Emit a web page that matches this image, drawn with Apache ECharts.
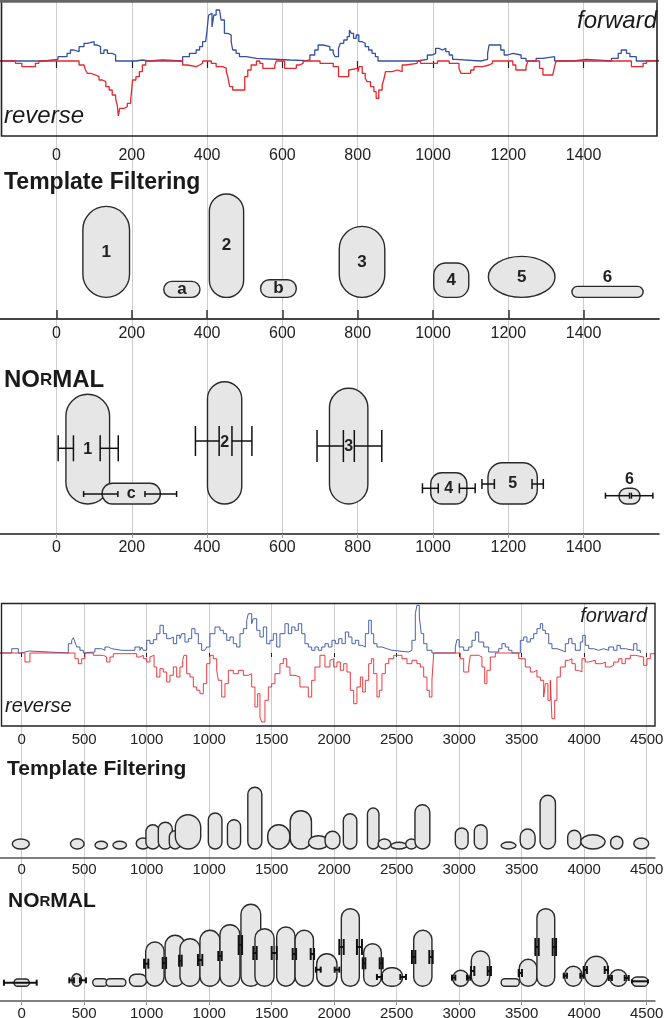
<!DOCTYPE html>
<html>
<head>
<meta charset="utf-8">
<script src="https://cdn.jsdelivr.net/npm/echarts@6/dist/echarts.min.js"></script>
<style>
  html, body { margin: 0; padding: 0; background: #fff; }
  #chart { width: 664px; height: 1018px; }
</style>
</head>
<body>
<div id="chart"></div>
<script>
// tick labels (the lower panel really repeats "1000")
const topTickLabels = ['0', '200', '400', '600', '800', '1000', '1200', '1400'];
const botTickLabels = ['0', '500', '1000', '1000', '1500', '2000', '2500', '3000', '3500', '4000', '4500'];

// read counts, [position, height]; forward up, reverse down
const topFwd = [[-200,0],[-34,1.7],[4,4.3],[28,7.7],[37,11],[46,9.3],[60,14.3],[73,17.7],[82,19.3],[100,16],[108,14.3],[117,7.7],[126,11],[135,7.7],[148,6],[157,0],[211,1],[228,0],[246,1],[282,0],[335,4.3],[353,7.7],[371,11],[380,14.3],[388,19.3],[396,17.7],[399,27.7],[404,46],[408,47.7],[413,34],[418,46],[424,51],[433,49],[437,41],[446,27.7],[455,26],[464,19.3],[468,11],[477,7.7],[486,4.3],[504,2.7],[531,1],[620,0.3],[664,1],[673,6],[686,11],[695,16],[708,14.3],[726,11],[735,7.7],[740,4.3],[749,12.7],[754,17.7],[763,21],[772,24.3],[778,31],[783,27.7],[789,22.7],[796,26],[803,19.3],[812,17.7],[820,14.3],[829,11],[838,7.7],[847,4.3],[854,0],[958,1.7],[985,6],[998,7.7],[1007,12.7],[1016,11],[1025,12.7],[1034,9.3],[1043,6],[1052,1.7],[1060,0],[1127,1.7],[1145,7.7],[1149,16],[1180,11],[1189,6],[1198,7.7],[1212,6],[1234,2.7],[1247,0],[1274,2.7],[1292,4.3],[1323,0],[1372,1.7],[1407,0],[1474,2.7],[1492,7.7],[1500,11],[1514,7.7],[1523,4.3],[1540,0],[1567,0.5],[1600,0.5]];
const topRev = [[-200,0],[-109,-2.3],[-92,-5.7],[-56,-2.3],[-47,0],[60,-4],[73,-5.7],[77,-9],[82,-12.3],[91,-14],[104,-15.7],[113,-19],[122,-20.7],[131,-25.7],[140,-29],[148,-34],[157,-37.3],[162,-45.7],[164,-55],[168,-47.3],[180,-45.7],[188,-42.3],[197,-39],[202,-19],[211,-15.7],[220,-10.7],[228,-4],[237,0],[335,-4],[348,-5.7],[371,-4],[380,-2.3],[388,0],[411,-2.3],[424,-5.7],[442,-7.3],[451,-10.7],[455,-15.7],[460,-25.7],[468,-29],[500,-15.7],[508,-9],[517,-4],[531,0],[540,-2.3],[548,-7.3],[580,-4],[584,0],[606,-7.3],[637,-4],[646,-2.3],[655,0],[700,-2.3],[735,-5.7],[749,-15.7],[776,-9],[780,-7.3],[801,-10.7],[804,-5.7],[812,-12.3],[820,-17.3],[825,-20.7],[834,-25.7],[843,-30.7],[849,-37.3],[856,-29],[865,-24],[869,-19],[874,-10.7],[892,-9],[905,-10.7],[918,-4],[927,-2.3],[958,0],[967,-2.3],[1012,0],[1043,-2.3],[1069,-7.3],[1074,-12.3],[1100,-9],[1109,-5.7],[1132,-4],[1149,-2.3],[1158,0],[1212,-4],[1220,-9],[1247,-5.7],[1252,0],[1283,-7.3],[1292,-14],[1318,-12.3],[1323,-5.7],[1327,0],[1527,-5.7],[1558,-2.3],[1567,0],[1600,0]];

const botFwd = [[-500,0],[-80,4.3],[-27,0],[-8,2],[61,0],[373,9.3],[400,12.7],[413,15.3],[426,11],[440,6],[466,2.7],[493,0],[506,1],[586,4.3],[640,2.7],[666,6],[693,4.3],[720,2.7],[800,1],[813,2.7],[906,6],[946,2.7],[960,6],[973,2.7],[1000,12.7],[1026,9.3],[1053,13.3],[1080,19.3],[1106,27.7],[1133,19.3],[1160,14.3],[1186,16],[1213,9.3],[1240,17.7],[1266,14.3],[1280,19.3],[1306,11],[1333,14.3],[1360,24.3],[1386,19.3],[1413,9.3],[1440,2.7],[1466,1],[1480,6],[1506,19.3],[1546,26],[1586,22.7],[1613,19.3],[1640,12.7],[1666,16],[1693,9.3],[1720,6],[1746,19.3],[1773,24.3],[1800,32.7],[1813,39.3],[1840,29.3],[1853,34.3],[1880,22.7],[1906,16],[1933,26],[1960,9.3],[1986,12.7],[2013,19.3],[2040,6],[2066,19.3],[2106,29.3],[2133,19.3],[2160,26],[2186,22.7],[2213,29.3],[2240,19.3],[2266,9.3],[2293,6],[2320,2.7],[2346,6],[2373,2.7],[2400,6],[2426,9.3],[2453,6],[2482,12.7],[2509,9.3],[2536,14.3],[2562,9.3],[2589,21],[2616,16],[2642,9.3],[2669,12.7],[2696,7.7],[2722,6],[2749,19.3],[2776,32.7],[2797,19.3],[2816,9.3],[2842,6],[2882,4.3],[2922,2.7],[2962,1],[3096,2.7],[3122,12.7],[3149,39.3],[3162,47.7],[3181,36],[3197,19.3],[3216,9.3],[3242,2.7],[3282,0],[3469,6],[3482,13.3],[3500,6],[3536,2.7],[3576,6],[3602,12.7],[3629,21],[3656,11],[3696,6],[3736,1],[3816,4.3],[3842,9.3],[3869,6],[3896,2.7],[3922,0],[3989,12.7],[4016,16],[4042,11],[4069,14.3],[4096,19.3],[4122,24.3],[4149,29.3],[4168,22.7],[4189,19.3],[4216,9.3],[4242,4.3],[4282,2.7],[4322,1],[4349,9.3],[4376,14.3],[4402,9.3],[4429,2.7],[4469,11],[4488,17.7],[4509,7.7],[4536,4.3],[4576,2.7],[4616,4.3],[4656,2.7],[4696,6],[4736,2.7],[4762,7.7],[4789,4.3],[4829,2.7],[4896,9.3],[4922,2.7],[4949,0]];
const botRev = [[-500,0],[26,-9],[66,0],[426,-5.7],[453,-10.7],[480,-5.7],[506,0],[573,-2.3],[653,-4],[680,-9],[706,-4],[733,-0.7],[920,-4],[946,-2.3],[973,-5.7],[1000,-9],[1026,-4],[1040,-2.3],[1059,-14],[1080,-24],[1106,-15.7],[1133,-19],[1160,-29],[1186,-22.3],[1213,-14],[1240,-24],[1266,-14],[1288,-7.3],[1298,-2.3],[1320,-20.7],[1346,-24],[1373,-34],[1400,-37.3],[1426,-40.7],[1453,-30.7],[1480,-10.7],[1506,-2.3],[1533,-5.7],[1560,-17.3],[1573,-27.3],[1600,-44],[1626,-30.7],[1653,-17.3],[1693,-20.7],[1733,-17.3],[1773,-22.3],[1813,-20.7],[1840,-34],[1866,-54],[1888,-40.7],[1906,-64],[1920,-69],[1946,-47.3],[1973,-34],[2000,-30.7],[2026,-20.7],[2066,-10.7],[2093,-5.7],[2120,-14],[2146,-22.3],[2186,-24],[2226,-34],[2293,-44],[2320,-27.3],[2346,-14],[2386,-2.3],[2426,-14],[2466,-7.3],[2482,-5.7],[2496,-14],[2522,-9],[2549,-17.3],[2576,-10.7],[2602,-19],[2629,-37.3],[2656,-50.7],[2682,-34],[2709,-24],[2728,-39],[2749,-27.3],[2776,-10.7],[2797,-5.7],[2816,-20.7],[2842,-44],[2861,-37.3],[2882,-20.7],[2909,-10.7],[2936,-5.7],[2976,-2.3],[3042,-5.7],[3082,-10.7],[3122,-7.3],[3162,-10.7],[3189,-14],[3216,-24],[3242,-37.3],[3261,-44],[3282,-27.3],[3296,0],[3509,-5.7],[3536,-19],[3576,-14],[3589,-2.3],[3656,-4],[3682,-14],[3704,-30.7],[3722,-17.3],[3749,-4],[3789,0],[3976,-5.7],[4029,-14],[4069,-19],[4096,-17.3],[4122,-24],[4149,-27.3],[4176,-44],[4189,-30.7],[4210,-47.3],[4229,-27.3],[4242,-65.7],[4264,-47.3],[4282,-24],[4309,-14],[4349,-7.3],[4376,-5.7],[4402,-10.7],[4429,-17.3],[4456,-19],[4482,-5.7],[4509,-9],[4536,-7.3],[4589,-10.7],[4642,-9],[4669,-14],[4709,-12.3],[4736,-9],[4776,-5.7],[4802,-10.7],[4829,-5.7],[4869,-2.3],[4909,-4],[4976,-12.3],[5002,-5.7],[5029,-0.7],[5066,-0.7]];

// segments: [start, end, bottom, top]
const tfTop = [[70,194,21.6,112.6],[285,381,21.6,37.6],[406,497,21.6,125],[542,637,21.6,39.3],[751,872,21.6,92.6],[1002,1095,21.6,56],[1147,1324,21.6,62.6],[1369,1558,21.6,32.6]];
const tfTopNames = ['1', 'a', '2', 'b', '3', '4', '5', '6'];
const tfTopKinds = ['s', 's', 's', 's', 's', 'r', 'e', 's'];
const tfTopNamePos = ['in', 'in', 'in', 'in', 'in', 'in', 'in', 'up'];

const nmTop = [[25,141,30,139.7],[121,276,30,50.7],[401,492,30,152.3],[725,827,30,145.7],[994,1090,30,61.3],[1146,1277,30,71.3],[1494,1550,30,45.7]];
const nmTopNames = ['1', 'c', '2', '3', '4', '5', '6'];
const nmTopKinds = ['s', 's', 's', 's', 'r', 'r', 's'];
const nmTopNamePos = ['in', 'in', 'in', 'in', 'in', 'in', 'up'];
// boundary error bars: [from, to, level, cap half-height]
const nmTopBars = [[4.5,45,85.7,13],[116,164,85.7,13],[72,163,40,3],[235,319,40,3],[369,432,93,15],[466,519,93,15],[692,762,88,16],[791,864,88,16],[972,1014,45.7,5],[1070,1112,45.7,5],[1130,1163,50,5],[1263,1293,50,5],[1458,1522,38.3,3],[1527,1584,38.3,3]];

const tfBot = [[-75,61,9,19],[390,499,9,19.3],[587,686,9,16.7],[730,838,9,16.7],[916,1025,9,20],[994,1103,9,33.3],[1093,1205,9,35.7],[1181,1273,9,27.3],[1229,1432,9,43.3],[1493,1602,9,45],[1646,1751,9,38.3],[1809,1921,9,70.7],[1968,2145,9,33.3],[2148,2318,9,47.3],[2294,2454,9,22.3],[2427,2546,9,26.7],[2573,2681,9,44.3],[2766,2858,9,50],[2851,2953,9,19],[2953,3082,9,15.7],[3072,3163,9,19],[3146,3265,9,53.3],[3469,3571,9,30],[3621,3723,9,33.3],[3835,3954,9,16],[3988,4107,9,29],[4147,4270,9,62.7],[4368,4473,9,27.7],[4473,4667,9,23.3],[4711,4809,9,21.7],[4897,5016,9,20]];
const tfBotKinds = ['e','e','e','e','e','s','s','s','s','s','s','s','s','s','e','s','s','s','e','e','e','s','s','s','e','s','s','s','e','s','e'];

const nmBot = [[-62,61,14.7,22],[400,480,14.7,27.3],[568,685,14.7,22.3],[675,834,14.7,22.3],[861,1000,14.7,26.7],[992,1139,14.7,59],[1147,1307,14.7,65.7],[1266,1426,14.7,62.3],[1426,1586,14.7,70.7],[1586,1746,14.7,76.3],[1754,1912,14.7,96.7],[1866,2019,14.7,72.3],[2040,2187,14.7,74],[2187,2334,14.7,70.7],[2360,2522,14.7,47.3],[2557,2701,14.7,92.3],[2736,2877,14.7,57.3],[2877,3048,14.7,33.3],[3136,3282,14.7,70.7],[3448,3576,14.7,30.7],[3597,3744,14.7,50],[3835,3981,14.7,22.3],[3981,4122,14.7,41.7],[4122,4264,14.7,92.3],[4344,4482,14.7,34.7],[4504,4690,14.7,44.7],[4704,4842,14.7,31.3],[4882,5010,14.7,24]];
const nmBotKinds = ['s','e','s','s','s','s','s','s','s','s','s','s','s','s','s','s','s','s','s','s','s','s','s','s','s','s','s','s'];
const nmBotBars = [[-142,120,18.3,3],[381,418,20.7,3],[466,514,20.7,3],[979,1013,37.3,5],[1128,1155,38,6],[1259,1280,40.3,6],[1410,1445,41,6],[1573,1600,45,5],[1736,1763,56,10],[1853,1880,48,7],[2000,2040,48,7],[2168,2195,47,6],[2312,2339,47,6],[2354,2392,31.3,3],[2504,2541,31.3,3],[2541,2576,54,8],[2682,2722,54,8],[2728,2749,37.7,6],[2864,2888,37.7,6],[2842,2882,24,3],[3029,3074,24,3],[3122,3149,44,7],[3261,3288,44,7],[3442,3469,23.3,3],[3562,3589,23.3,3],[3594,3621,30,5],[3728,3754,30,5],[3976,4002,28,4],[4109,4136,54,9],[4248,4275,54,9],[4336,4362,25.3,3],[4469,4496,25.3,3],[4496,4522,31,4],[4664,4690,31,4],[4696,4722,23,3],[4824,4856,23,3],[4882,5010,19.7,2]];

const FONT = '"Liberation Sans", Arial, Helvetica, sans-serif';
const BLUE = '#3450a4';
const RED = '#e8262c';
const FILL = '#e6e6e6';

const chart = echarts.init(document.getElementById('chart'));

// top panel: 0 at x=54.5, 0.3765 px per unit; bottom: 0 at x=21.7, 0.125 px per unit
const topGrid = { left: -18.8, width: 677.7 };
const botGrid = { left: -40.8, width: 695.75 };

function tickName(labels, step) {
  return function (v) {
    const i = Math.round(v / step);
    return Math.abs(v - i * step) < 1e-6 && i >= 0 && i < labels.length ? labels[i] : '';
  };
}

function xAxis(gridIndex, top, extra) {
  const base = {
    type: 'value', gridIndex: gridIndex,
    min: top ? -200 : -500, max: top ? 1600 : 5066, interval: top ? 200 : 500,
    axisLine: { show: false },
    axisTick: { show: false },
    splitLine: { show: true, showMaxLine: false, lineStyle: { color: '#cdcdcd', width: 1 } },
    axisLabel: {
      formatter: tickName(top ? topTickLabels : botTickLabels, top ? 200 : 500),
      fontFamily: FONT, fontSize: top ? 16 : 15, color: '#222', margin: 6,
      showMaxLabel: false
    }
  };
  return echarts.util.merge(base, extra || {}, true);
}

function yAxis(gridIndex, min, max) {
  return { type: 'value', gridIndex: gridIndex, min: min, max: max, show: false };
}

function shapeItem(kinds, names, namePos, fontSize) {
  return function (params, api) {
    const i = params.dataIndex;
    const p = api.coord([api.value(0), api.value(3)]);
    const q = api.coord([api.value(1), api.value(2)]);
    const x = p[0], y = p[1], w = q[0] - p[0], h = q[1] - p[1];
    const style = { fill: FILL, stroke: '#2a2a2a', lineWidth: 1.4 };
    let body;
    if (kinds[i] === 'e') {
      body = { type: 'ellipse', shape: { cx: x + w / 2, cy: y + h / 2, rx: w / 2, ry: h / 2 }, style: style };
    } else {
      const r = kinds[i] === 'r' ? Math.min(w, h) * 0.35 : Math.min(w, h) / 2;
      body = { type: 'rect', shape: { x: x, y: y, width: w, height: h, r: r }, style: style };
    }
    const children = [body];
    if (names && names[i]) {
      const up = namePos && namePos[i] === 'up';
      children.push({
        type: 'text',
        style: {
          text: names[i], x: x + w / 2, y: up ? y - 9 : y + h / 2,
          align: 'center', verticalAlign: 'middle',
          font: 'bold ' + fontSize + 'px ' + FONT, fill: '#222'
        }
      });
    }
    return { type: 'group', children: children };
  };
}

function barItem(width) {
  return function (params, api) {
    const a = api.coord([api.value(0), api.value(2)]);
    const b = api.coord([api.value(1), api.value(2)]);
    const c = api.coord([api.value(0), api.value(2) + api.value(3)]);
    const cap = a[1] - c[1];
    const style = { stroke: '#111', lineWidth: width };
    return {
      type: 'group',
      children: [
        { type: 'line', shape: { x1: a[0], y1: a[1], x2: b[0], y2: b[1] }, style: style },
        { type: 'line', shape: { x1: a[0], y1: a[1] - cap, x2: a[0], y2: a[1] + cap }, style: style },
        { type: 'line', shape: { x1: b[0], y1: b[1] - cap, x2: b[0], y2: b[1] + cap }, style: style }
      ]
    };
  };
}

function stepLine(idx, data, color, width) {
  return {
    type: 'line', xAxisIndex: idx, yAxisIndex: idx, data: data, step: 'end',
    symbol: 'none', silent: true, lineStyle: { color: color, width: width }, itemStyle: { color: color }
  };
}

function shapes(idx, data, kinds, names, namePos, fontSize) {
  return {
    type: 'custom', xAxisIndex: idx, yAxisIndex: idx, data: data, silent: true,
    encode: { x: [0, 1], y: [2, 3] },
    renderItem: shapeItem(kinds, names, namePos, fontSize)
  };
}

function bars(idx, data, width) {
  return {
    type: 'custom', xAxisIndex: idx, yAxisIndex: idx, data: data, silent: true, z: 3,
    encode: { x: [0, 1], y: 2 },
    renderItem: barItem(width)
  };
}

const gridBase = { containLabel: false, outerBoundsMode: 'none' };
const titleStyle = (size, extra) => Object.assign({ fontFamily: FONT, fontSize: size, color: '#1a1a1a', fontWeight: 'bold' }, extra || {});

const option = {
  animation: false,
  textStyle: { fontFamily: FONT },
  title: [
    { text: 'forward', right: 7, top: 9, padding: 0, textStyle: titleStyle(24, { fontWeight: 'normal', fontStyle: 'italic' }) },
    { text: 'reverse', left: 4, top: 104, padding: 0, textStyle: titleStyle(24, { fontWeight: 'normal', fontStyle: 'italic' }) },
    { text: 'Template Filtering', left: 4, top: 171, padding: 0, textStyle: titleStyle(23) },
    { text: '{b|NO}{s|R}{b|MAL}', left: 4, top: 368, padding: 0,
      textStyle: titleStyle(24, { rich: { b: { fontSize: 24, fontWeight: 'bold', fontFamily: FONT, color: '#1a1a1a' }, s: { fontSize: 17, fontWeight: 'bold', fontFamily: FONT, color: '#1a1a1a' } } }) },
    { text: 'forward', right: 17, top: 606, padding: 0, textStyle: titleStyle(20, { fontWeight: 'normal', fontStyle: 'italic' }) },
    { text: 'reverse', left: 5, top: 696, padding: 0, textStyle: titleStyle(20, { fontWeight: 'normal', fontStyle: 'italic' }) },
    { text: 'Template Filtering', left: 7, top: 759, padding: 0, textStyle: titleStyle(21) },
    { text: '{b|NO}{s|R}{b|MAL}', left: 8, top: 891, padding: 0,
      textStyle: titleStyle(20, { rich: { b: { fontSize: 21, fontWeight: 'bold', fontFamily: FONT, color: '#1a1a1a' }, s: { fontSize: 15, fontWeight: 'bold', fontFamily: FONT, color: '#1a1a1a' } } }) }
  ],
  grid: [
    Object.assign({ top: 1, height: 135 }, topGrid, gridBase),
    Object.assign({ top: 136, height: 183 }, topGrid, gridBase),
    Object.assign({ top: 319, height: 215 }, topGrid, gridBase),
    Object.assign({ top: 603.5, height: 122.5 }, botGrid, gridBase),
    Object.assign({ top: 726, height: 132 }, botGrid, gridBase),
    Object.assign({ top: 858, height: 143 }, botGrid, gridBase)
  ],
  xAxis: [
    xAxis(0, true, { axisTick: { show: true, length: 7, lineStyle: { color: '#222', width: 1.2 } }, axisLabel: { margin: 12 } }),
    xAxis(1, true, { axisLine: { show: true, lineStyle: { color: '#444', width: 2 } }, axisTick: { show: true, inside: true, length: 9, lineStyle: { color: '#333', width: 1.5 } }, axisLabel: { margin: 7 } }),
    xAxis(2, true, { axisLine: { show: true, lineStyle: { color: '#555', width: 2 } }, axisTick: { show: true, length: 4, lineStyle: { color: '#999', width: 1 } } }),
    xAxis(3, false, { axisTick: { show: true, length: 4, lineStyle: { color: '#222', width: 1 } } }),
    xAxis(4, false, { axisLine: { show: true, lineStyle: { color: '#555', width: 1.5 } }, axisLabel: { margin: 4 } }),
    xAxis(5, false, { axisLine: { show: true, lineStyle: { color: '#555', width: 1.5 } }, axisTick: { show: true, length: 4, lineStyle: { color: '#999', width: 1 } }, axisLabel: { margin: 5 } })
  ],
  yAxis: [
    yAxis(0, -75, 60),
    yAxis(1, 0, 183),
    yAxis(2, 0, 215),
    yAxis(3, -73, 49.5),
    yAxis(4, 0, 132),
    yAxis(5, 0, 143)
  ],
  graphic: [
    { type: 'rect', z: 100, shape: { x: 1.5, y: 1, width: 655.5, height: 135 }, style: { fill: 'none', stroke: '#222', lineWidth: 1.6 } },
    { type: 'line', z: 100, shape: { x1: 0, y1: 1.2, x2: 658, y2: 1.2 }, style: { stroke: '#666', lineWidth: 3 } },
    { type: 'rect', z: 100, shape: { x: 1.5, y: 603.5, width: 653.5, height: 122.5 }, style: { fill: 'none', stroke: '#222', lineWidth: 1.4 } }
  ],
  series: [
    stepLine(0, topFwd, BLUE, 1.3),
    stepLine(0, topRev, RED, 1.3),
    shapes(1, tfTop, tfTopKinds, tfTopNames, tfTopNamePos, 17),
    shapes(2, nmTop, nmTopKinds, nmTopNames, nmTopNamePos, 16),
    bars(2, nmTopBars, 1.5),
    stepLine(3, botFwd, BLUE, 0.9),
    stepLine(3, botRev, RED, 0.9),
    shapes(4, tfBot, tfBotKinds, null, null, 12),
    shapes(5, nmBot, nmBotKinds, null, null, 12),
    bars(5, nmBotBars, 2)
  ]
};

chart.setOption(option);
</script>
</body>
</html>
